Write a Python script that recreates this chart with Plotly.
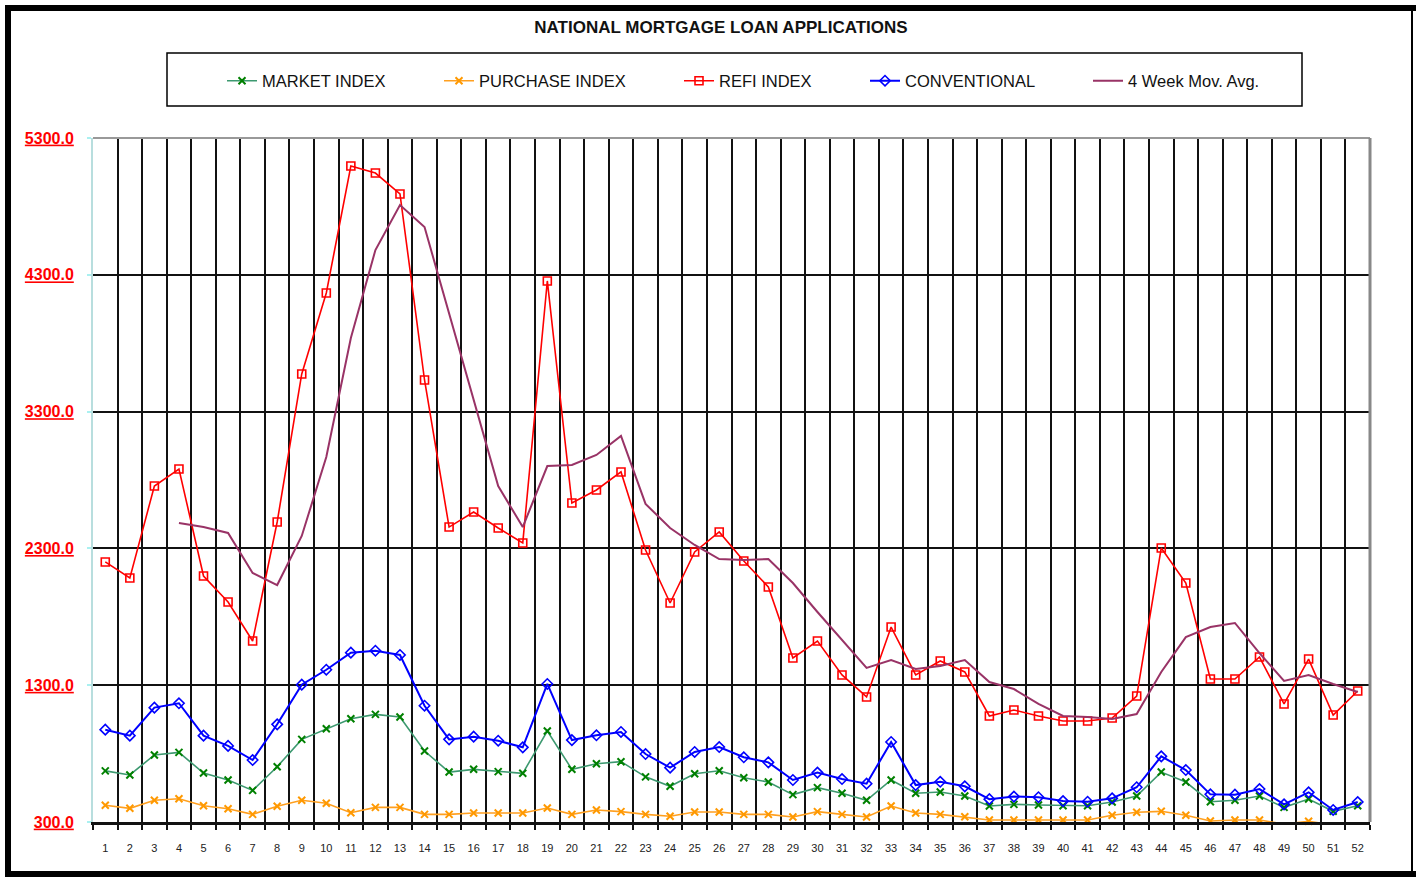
import plotly.graph_objects as go

weeks = list(range(1, 53))
week_labels = [str(w) for w in weeks]

market_index = [674, 644, 790, 809, 658, 607, 531, 704, 904, 982, 1055, 1087, 1068, 819, 665, 685, 668, 656, 965, 685,
                726, 741, 630, 561, 653, 675, 624, 592, 500, 551, 510, 459, 607, 510, 519, 490, 417, 429, 424, 419,
                419, 446, 490, 665, 592, 448, 459, 490, 407, 468, 378, 419]
purchase_index = [422, 400, 459, 470, 419, 397, 356, 415, 459, 437, 368, 407, 407, 356, 356, 366, 366, 366, 402, 356,
                  388, 376, 356, 342, 373, 373, 356, 356, 337, 376, 356, 337, 417, 366, 356, 338, 315, 315, 315, 315,
                  315, 349, 371, 378, 349, 307, 315, 315, 285, 305, 278, 278]
refi_index = [2201, 2084, 2756, 2880, 2098, 1908, 1623, 2493, 3575, 4167, 5095, 5044, 4891, 3531, 2456, 2566, 2449, 2340,
              4255, 2632, 2727, 2859, 2288, 1901, 2274, 2420, 2208, 2018, 1499, 1623, 1375, 1214, 1725, 1375, 1477,
              1397, 1075, 1119, 1075, 1038, 1038, 1060, 1221, 2303, 2047, 1345, 1345, 1506, 1163, 1491, 1082, 1258]
conventional = [975, 931, 1136, 1168, 931, 856, 753, 1014, 1304, 1413, 1538, 1552, 1521, 1150, 904, 924, 894, 846, 1309,
                899, 934, 958, 797, 697, 812, 848, 773, 736, 607, 661, 614, 580, 885, 570, 594, 561, 467, 486, 481,
                453, 448, 473, 554, 780, 680, 502, 500, 541, 429, 517, 388, 446]
mov_avg_4wk = [None, None, None, 2486, 2456, 2413, 2120, 2032, 2391, 2968, 3838, 4481, 4810, 4649, 4021, 3385, 2756,
               2456, 2902, 2910, 2983, 3122, 2625, 2449, 2325, 2222, 2215, 2222, 2047, 1835, 1630, 1426, 1484, 1418,
               1440, 1484, 1323, 1272, 1163, 1075, 1068, 1053, 1089, 1397, 1652, 1725, 1755, 1535, 1331, 1375, 1309,
               1250]

y_ticks = [300, 1300, 2300, 3300, 4300, 5300]
y_tick_text = ["<b><u>%.1f</u></b>" % v for v in y_ticks]

FONT = "Arial, Liberation Sans, sans-serif"

# plot area in pixels
W, H = 1416, 877
L, R, T, B = 93, 1370, 138, 822


def px(x):
    return (x - L) / (R - L)


def py(y):
    return (B - y) / (B - T)


fig = go.Figure()

fig.add_trace(go.Scatter(
    x=weeks, y=market_index, name="MARKET INDEX", mode="lines+markers",
    line=dict(color="#3d9970", width=1.6),
    marker=dict(symbol="x-thin", size=7, color="#008000", line=dict(color="#008000", width=2)),
    legend="legend"))
fig.add_trace(go.Scatter(
    x=weeks, y=purchase_index, name="PURCHASE INDEX", mode="lines+markers",
    line=dict(color="#ffa020", width=1.6),
    marker=dict(symbol="x-thin", size=7, color="#ff9900", line=dict(color="#ff9900", width=2)),
    cliponaxis=False, legend="legend2"))
fig.add_trace(go.Scatter(
    x=weeks, y=refi_index, name="REFI INDEX", mode="lines+markers",
    line=dict(color="#ff0000", width=1.6),
    marker=dict(symbol="square-open", size=8, color="#ff0000", line=dict(color="#ff0000", width=1.6)),
    legend="legend3"))
fig.add_trace(go.Scatter(
    x=weeks, y=conventional, name="CONVENTIONAL", mode="lines+markers",
    line=dict(color="#0000ff", width=2),
    marker=dict(symbol="diamond-open", size=8, color="#0000ff", line=dict(color="#0000ff", width=1.6)),
    legend="legend4"))
fig.add_trace(go.Scatter(
    x=weeks, y=mov_avg_4wk, name="4 Week Mov. Avg.", mode="lines",
    line=dict(color="#993366", width=2),
    legend="legend5"))

legend_font = dict(family=FONT, size=16.5, color="#111111")
legend_text_x = [262, 479, 719, 905, 1128]
legend_common = dict(orientation="h", xanchor="left", yanchor="middle", y=py(81),
                     bgcolor="rgba(0,0,0,0)", borderwidth=0, font=legend_font,
                     itemclick=False, itemdoubleclick=False)

shapes = [
    # legend box
    dict(type="rect", xref="paper", yref="paper", x0=px(167), x1=px(1302), y0=py(106), y1=py(53),
         line=dict(color="black", width=1.5)),
    # plot top border
    dict(type="line", xref="paper", yref="paper", x0=0, x1=1, y0=1, y1=1, line=dict(color="#999999", width=2)),
    # plot right border
    dict(type="line", xref="paper", yref="paper", x0=1, x1=1, y0=0, y1=1, line=dict(color="#888888", width=3)),
    # outer frame
    dict(type="line", xref="paper", yref="paper", x0=px(8), x1=px(1416), y0=py(8), y1=py(8),
         line=dict(color="black", width=6)),
    dict(type="line", xref="paper", yref="paper", x0=px(8), x1=px(8), y0=py(5), y1=py(877),
         line=dict(color="black", width=6)),
    dict(type="line", xref="paper", yref="paper", x0=px(5), x1=px(1416), y0=py(874), y1=py(874),
         line=dict(color="black", width=6)),
    dict(type="line", xref="paper", yref="paper", x0=px(1412), x1=px(1412), y0=py(8), y1=py(874),
         line=dict(color="black", width=2)),
]

fig.update_layout(
    width=W, height=H,
    margin=dict(l=L, r=W - R, t=T, b=H - B),
    paper_bgcolor="white", plot_bgcolor="white",
    font=dict(family=FONT, color="#111111"),
    title=dict(text="<b>NATIONAL MORTGAGE LOAN APPLICATIONS</b>", x=px(721), xref="paper", xanchor="center",
               y=1 - 27 / H, yref="container", yanchor="middle",
               font=dict(family=FONT, size=17, color="#111111")),
    legend=dict(x=px(legend_text_x[0] - 40), **legend_common),
    legend2=dict(x=px(legend_text_x[1] - 40), **legend_common),
    legend3=dict(x=px(legend_text_x[2] - 40), **legend_common),
    legend4=dict(x=px(legend_text_x[3] - 40), **legend_common),
    legend5=dict(x=px(legend_text_x[4] - 40), **legend_common),
    shapes=shapes,
    showlegend=True,
)

fig.update_xaxes(
    range=[0.5, 52.5], tickmode="array", tickvals=weeks, ticktext=week_labels,
    showgrid=False, ticks="", ticklabelstandoff=14,
    tickfont=dict(family=FONT, size=11, color="#222222"),
    showline=True, linecolor="#111111", linewidth=3,
    minor=dict(tickmode="linear", tick0=0.5, dtick=1, showgrid=True, gridcolor="#111111", gridwidth=2,
               ticks="outside", ticklen=5, tickcolor="#111111", tickwidth=1.5),
    zeroline=False, fixedrange=True,
)
fig.update_yaxes(
    range=[300, 5300], tickmode="array", tickvals=y_ticks, ticktext=y_tick_text,
    showgrid=True, gridcolor="#111111", gridwidth=2,
    ticks="outside", ticklen=4, tickcolor="#aaf0f0", tickwidth=1.5, ticklabelstandoff=10,
    tickfont=dict(family=FONT, size=16, color="#ff0000"),
    showline=True, linecolor="#b8dede", linewidth=2,
    zeroline=False, fixedrange=True,
)

fig.write_html("out.html", config={"displayModeBar": False},
               post_script="document.body.style.margin='0';document.body.style.padding='0';")
